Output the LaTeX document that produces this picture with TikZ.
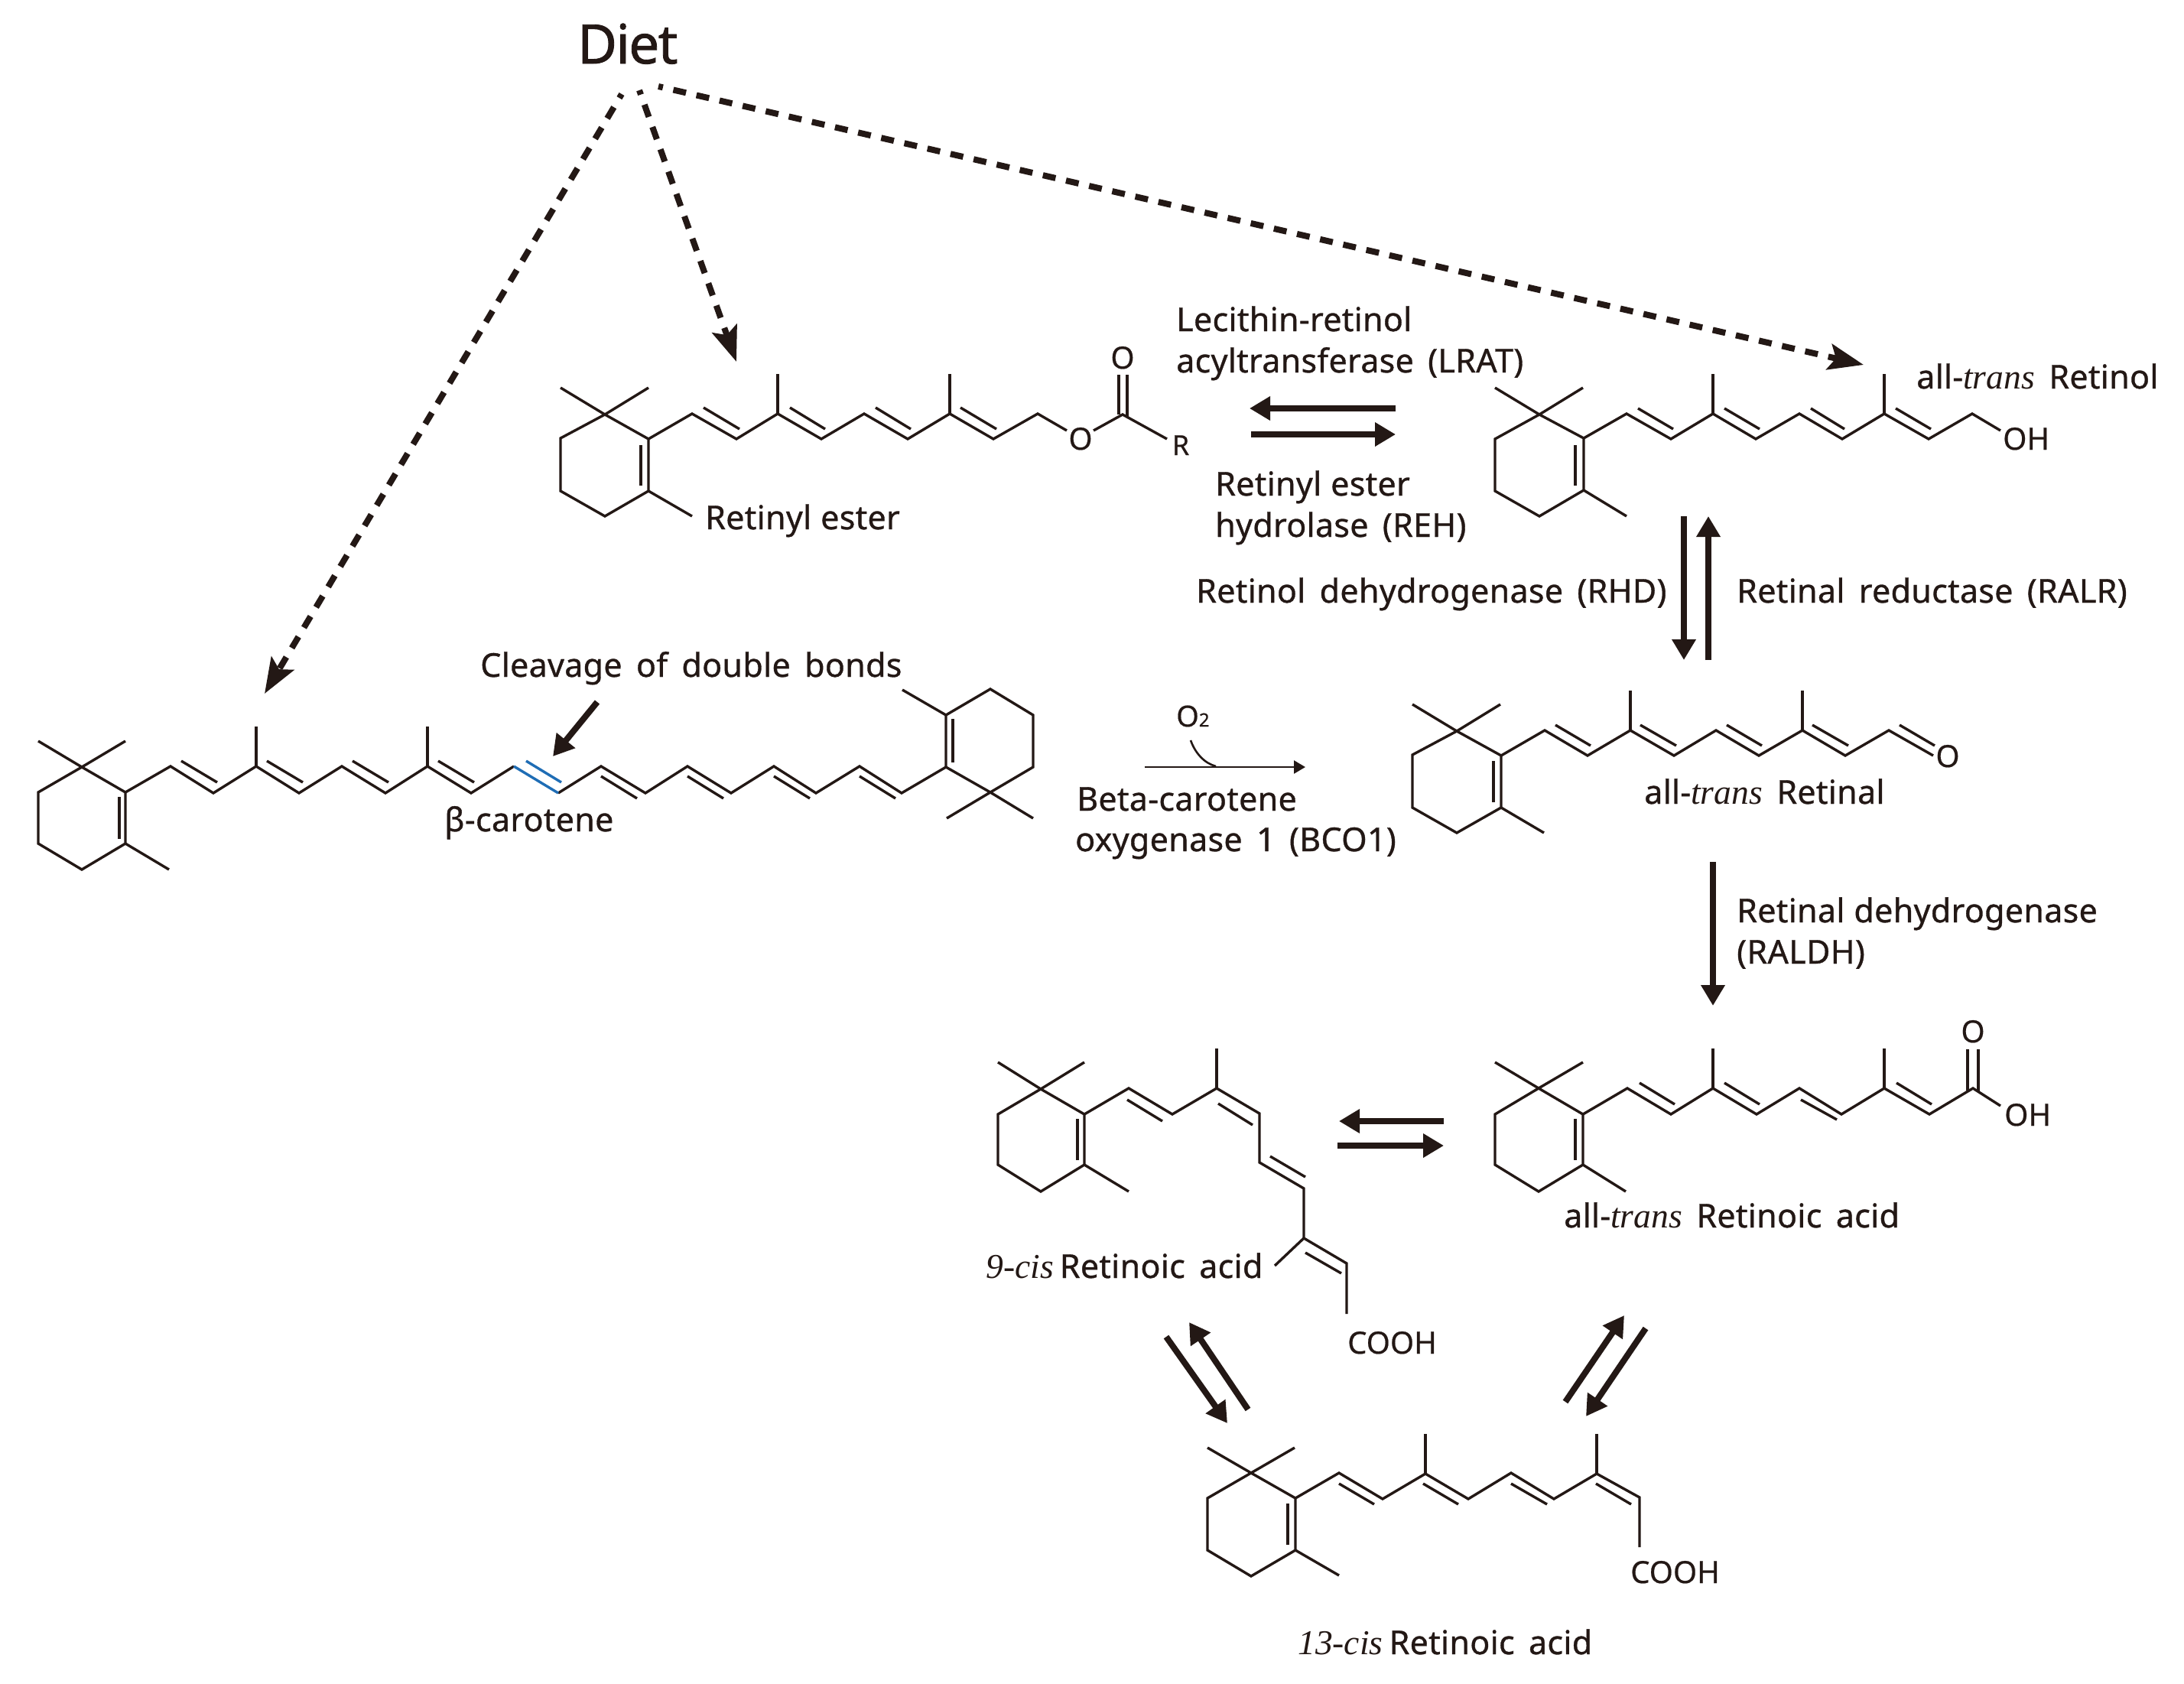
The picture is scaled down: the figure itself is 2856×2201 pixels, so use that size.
\documentclass[tikz,border=0pt]{standalone}
\usepackage{fontspec}
\setmainfont{Noto Sans}[LetterSpace=0.7,WordSpace=1.6,FakeBold=0.8]
\newfontfamily\dietface{Noto Sans}[LetterSpace=-2.2,FakeBold=1.2]
\newfontfamily\atomface{Noto Sans}[FakeBold=0.5]
\newfontfamily\serifface{Liberation Serif}[Scale=1.06]
\usetikzlibrary{arrows.meta}
\definecolor{ink}{HTML}{231815}
\definecolor{cutblue}{HTML}{1F6DB5}
\newcommand{\tr}{{\serifface\itshape trans}}
\newcommand{\cs}[1]{{\serifface\itshape #1}}
\tikzset{
  x=1pt,y=-1pt,
  bond/.style={draw=ink,line width=3.4pt,line join=miter},
  cutbond/.style={draw=cutblue,line width=3.4pt},
  dietarrow/.style={draw=ink,line width=8pt,dash pattern=on 17pt off 14pt,dash phase=11pt,
    -{Stealth[length=46pt,width=34pt,inset=9pt]}},
  fatarrow/.style={draw=ink,line width=8pt,-{Triangle[length=27pt,width=30pt]}},
  thinarrow/.style={draw=ink,line width=2.6pt,-{Triangle[length=15pt,width=17pt]}},
  label/.style={anchor=base west,inner sep=0pt,text=ink,font=\fontsize{43}{54}\selectfont},
  atom/.style={anchor=base,inner sep=0pt,text=ink,font=\atomface\fontsize{40}{46}\selectfont},
}
\begin{document}
\begin{tikzpicture}
\useasboundingbox (0,0) rectangle (2856,2201);
% ---- beta-carotene
\draw[bond] (50,969)--(107,1003)--(164,969);
\draw[bond] (107,1003)--(50,1036)--(50,1103)--(107,1137)--(164,1103)--(164,1036)--(107,1003);
\draw[bond] (164,1103)--(221,1137);
\draw[bond] (156,1042)--(156,1097);
\draw[bond] (164,1036)--(223,1002)--(279,1037)--(335,1002)--(391,1037)--(447,1002)--(504,1037)--(559,1002)--(616,1037)--(672,1002);
\draw[bond] (730,1037)--(786,1002)--(844,1037)--(899,1002)--(956,1037)--(1012,1002)--(1067,1037)--(1124,1002)--(1179,1037)--(1237,1003);
\draw[bond] (335,1002)--(335,950) (559,1002)--(559,950);
\draw[bond] (237,995)--(284,1023) (349,995)--(396,1023) (461,995)--(508,1023) (573,995)--(620,1023);
\draw[cutbond] (672,1002)--(730,1037) (688,995)--(734,1023);
\draw[bond] (786,1015)--(833,1044) (899,1015)--(946,1044) (1012,1015)--(1059,1044) (1124,1015)--(1171,1044);
\draw[bond] (1237,1003)--(1237,935)--(1295,901)--(1351,935)--(1351,1003)--(1295,1036)--(1237,1003);
\draw[bond] (1237,935)--(1180,902);
\draw[bond] (1238,1070)--(1295,1036)--(1351,1070);
\draw[bond] (1246,940)--(1246,997);
% ---- retinyl ester
\draw[bond] (733,507)--(791,542)--(848,507);
\draw[bond] (791,542)--(733,573)--(733,642)--(791,675)--(848,642)--(848,574)--(791,542);
\draw[bond] (848,642)--(905,675);
\draw[bond] (838,582)--(838,635);
\draw[bond] (848,574)--(905,541)--(963,574)--(1017,541)--(1074,574)--(1130,541)--(1187,574)--(1242,541)--(1299,574)--(1357,541)--(1395,563);
\draw[bond] (1017,541)--(1017,489) (1242,541)--(1242,489);
\draw[bond] (920,533)--(967,561) (1033,533)--(1079,561) (1145,533)--(1191,561) (1256,533)--(1303,561);
\draw[bond] (1430,563)--(1468,542)--(1526,574);
\draw[bond] (1463,490)--(1463,542) (1474,490)--(1474,545);
\node[atom] (oe1) at (1468,482) {O};
\node[atom] (oe2) at (1413,588) {O};
\node[atom,font=\atomface\fontsize{36}{40}\selectfont] (re) at (1544,595) {R};
\node[label] (retest) at (922,692) {Retinyl\hspace{12pt}ester};
% ---- all-trans retinol
\draw[bond] (1955,507)--(2013,542)--(2070,507);
\draw[bond] (2013,542)--(1955,574)--(1955,642)--(2013,675)--(2071,641)--(2071,573)--(2013,542);
\draw[bond] (2071,641)--(2127,675);
\draw[bond] (2060,582)--(2060,635);
\draw[bond] (2071,573)--(2127,541)--(2185,574)--(2240,541)--(2296,574)--(2353,541)--(2409,574)--(2464,541)--(2522,574)--(2579,541)--(2616,563);
\draw[bond] (2240,541)--(2240,489) (2464,541)--(2464,489);
\draw[bond] (2142,534)--(2188,561) (2255,534)--(2301,561) (2368,534)--(2412,561) (2479,534)--(2525,561);
\node[atom,anchor=base west] (oh1) at (2619,588) {OH};
\node[label] (trol) at (2506,508) {all-\tr\ Retinol};
% ---- all-trans retinal
\draw[bond] (1847,921)--(1905,956)--(1962,921);
\draw[bond] (1905,956)--(1847,987)--(1847,1056)--(1905,1089)--(1963,1056)--(1963,988)--(1905,956);
\draw[bond] (1963,1056)--(2019,1089);
\draw[bond] (1953,995)--(1953,1049);
\draw[bond] (1963,988)--(2020,955)--(2076,988)--(2132,955)--(2189,988)--(2244,955)--(2300,988)--(2357,955)--(2413,988)--(2470,955)--(2528,988);
\draw[bond] (2132,955)--(2132,903) (2357,955)--(2357,903);
\draw[bond] (2034,948)--(2080,975) (2145,948)--(2192,975) (2258,948)--(2304,975) (2370,948)--(2417,975) (2484,948)--(2530,975);
\node[atom] (oal) at (2547,1003) {O};
\node[label] (tral) at (2150,1051) {all-\tr\ Retinal};
% ---- all-trans retinoic acid
\draw[bond] (1955,1389)--(2012,1423)--(2070,1389);
\draw[bond] (2012,1423)--(1955,1457)--(1955,1523)--(2012,1558)--(2070,1523)--(2070,1457)--(2012,1423);
\draw[bond] (2070,1523)--(2126,1558);
\draw[bond] (2060,1463)--(2060,1517);
\draw[bond] (2070,1457)--(2128,1423)--(2185,1457)--(2240,1423)--(2297,1457)--(2353,1423)--(2408,1457)--(2464,1423)--(2523,1457)--(2580,1423)--(2616,1446);
\draw[bond] (2240,1423)--(2240,1371) (2464,1423)--(2464,1371);
\draw[bond] (2144,1416)--(2190,1444) (2255,1416)--(2301,1444) (2355,1438)--(2402,1464) (2480,1416)--(2526,1444);
\draw[bond] (2573,1372)--(2573,1426) (2587,1372)--(2587,1428);
\node[atom] (oa) at (2580,1363) {O};
\node[atom,anchor=base west] (oh2) at (2621,1472) {OH};
\node[label] (tra) at (2045,1605) {all-\tr\ Retinoic acid};
% ---- 9-cis retinoic acid
\draw[bond] (1305,1389)--(1361,1424)--(1418,1389);
\draw[bond] (1361,1424)--(1305,1457)--(1305,1523)--(1361,1558)--(1418,1523)--(1418,1457)--(1361,1424);
\draw[bond] (1418,1523)--(1476,1558);
\draw[bond] (1409,1463)--(1409,1517);
\draw[bond] (1418,1457)--(1476,1423)--(1533,1457)--(1591,1423)--(1647,1456)--(1647,1520)--(1705,1554)--(1705,1619)--(1761,1652)--(1761,1718);
\draw[bond] (1705,1619)--(1667,1655);
\draw[bond] (1591,1423)--(1591,1371);
\draw[bond] (1474,1438)--(1520,1466) (1593,1443)--(1638,1471) (1661,1512)--(1707,1539) (1707,1638)--(1754,1665);
\node[atom,anchor=base west] (cooh9) at (1762,1770) {COOH};
\node[label] (nine) at (1289,1671) {\cs{9-cis}\hspace{8pt}Retinoic acid};
% ---- 13-cis retinoic acid
\draw[bond] (1579,1893)--(1636,1926)--(1693,1893);
\draw[bond] (1636,1926)--(1579,1959)--(1579,2027)--(1636,2061)--(1694,2027)--(1694,1959)--(1636,1926);
\draw[bond] (1694,2027)--(1751,2060);
\draw[bond] (1684,1966)--(1684,2020);
\draw[bond] (1694,1959)--(1751,1926)--(1808,1960)--(1864,1927)--(1920,1960)--(1976,1926)--(2032,1960)--(2088,1927)--(2144,1958)--(2144,2023);
\draw[bond] (1864,1927)--(1864,1875) (2088,1927)--(2088,1875);
\draw[bond] (1751,1940)--(1797,1967) (1861,1940)--(1907,1967) (1976,1940)--(2023,1967) (2087,1940)--(2133,1967);
\node[atom,anchor=base west] (cooh13) at (2132,2070) {COOH};
\node[label] (thirteen) at (1697,2163) {\cs{13-cis}\hspace{8pt}Retinoic acid};
% ---- texts
\node[label,font=\dietface\fontsize{71}{80}\selectfont] (diet) at (755,83) {Diet};
\node[label] (clv) at (628,885) {Cleavage of double bonds};
\node[label] (bc) at (581,1087) {β-carotene};
\node[label] (lrat1) at (1538,433) {Lecithin-retinol};
\node[label] (lrat2) at (1538,487) {acyltransferase (LRAT)};
\node[label] (reh1) at (1589,648) {Retinyl\hspace{12pt}ester};
\node[label] (reh2) at (1589,702) {hydrolase (REH)};
\node[label] (rhd) at (1564,788) {Retinol dehydrogenase (RHD)};
\node[label] (ralr) at (2271,788) {Retinal reductase (RALR)};
\node[label] (bco1) at (1408,1060) {Beta-carotene};
\node[label] (bco2) at (1406,1113) {oxygenase 1 (BCO1)};
\node[label] (raldh1) at (2271,1206) {Retinal\hspace{12pt}dehydrogenase};
\node[label] (raldh2) at (2271,1260) {(RALDH)};
\node[atom,anchor=base west,font=\atomface\fontsize{38}{46}\selectfont] (otwo) at (1538,950) {O{\fontsize{24}{28}\selectfont 2}};
% ---- arrow end points
\coordinate (d1) at (813,123);   \coordinate (bcT) at (346,907);
\coordinate (d2) at (836,118);   \coordinate (estT) at (963,473);
\coordinate (d3) at (861,113);   \coordinate (rolT) at (2437,477);
\coordinate (cS) at (781,918);   \coordinate (cT) at (723,989);
\coordinate (lA) at (1825,534);  \coordinate (lB) at (1634,534);
\coordinate (rA) at (1636,568);  \coordinate (rB) at (1825,568);
\coordinate (vA) at (2202,675);  \coordinate (vB) at (2202,863);
\coordinate (uA) at (2234,863);  \coordinate (uB) at (2234,675);
\coordinate (bA) at (1497,1003); \coordinate (bB) at (1707,1003);
\coordinate (o2a) at (1557,968); \coordinate (o2b) at (1590,1002);
\coordinate (aA) at (2240,1127); \coordinate (aB) at (2240,1315);
\coordinate (iA) at (1888,1466); \coordinate (iB) at (1751,1466);
\coordinate (jA) at (1749,1498); \coordinate (jB) at (1888,1498);
\coordinate (kA) at (1632,1843); \coordinate (kB) at (1555,1729);
\coordinate (mA) at (1525,1748); \coordinate (mB) at (1605,1861);
\coordinate (nA) at (2047,1833); \coordinate (nB) at (2124,1720);
\coordinate (pA) at (2152,1737); \coordinate (pB) at (2074,1852);
% ---- arrows
\draw[dietarrow] (d1)--(bcT);
\draw[dietarrow] (d2)--(estT);
\draw[dietarrow] (d3)--(rolT);
\draw[fatarrow] (cS)--(cT);
\draw[fatarrow] (lA)--(lB);
\draw[fatarrow] (rA)--(rB);
\draw[fatarrow] (vA)--(vB);
\draw[fatarrow] (uA)--(uB);
\draw[thinarrow] (bA)--(bB);
\draw[draw=ink,line width=2.6pt] (o2a) .. controls (1563,985) and (1575,998) .. (o2b);
\draw[fatarrow] (aA)--(aB);
\draw[fatarrow] (iA)--(iB);
\draw[fatarrow] (jA)--(jB);
\draw[fatarrow] (kA)--(kB);
\draw[fatarrow] (mA)--(mB);
\draw[fatarrow] (nA)--(nB);
\draw[fatarrow] (pA)--(pB);
\end{tikzpicture}
\end{document}
